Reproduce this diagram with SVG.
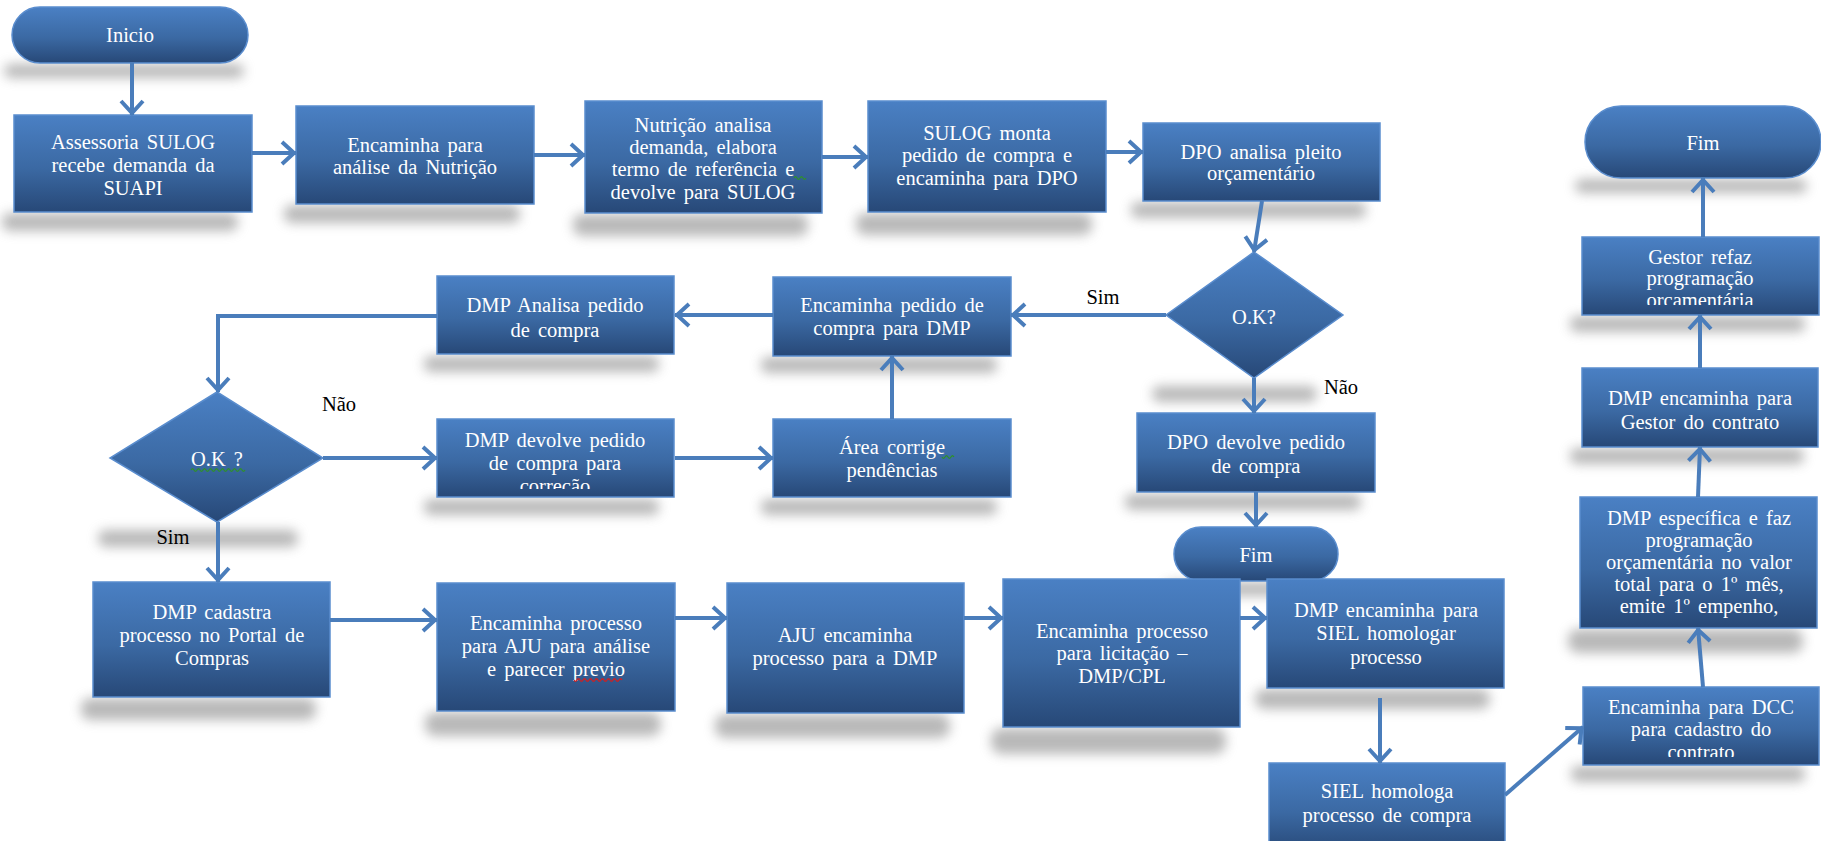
<svg xmlns="http://www.w3.org/2000/svg" width="1821" height="841" viewBox="0 0 1821 841">
<style>
.box{fill:url(#g);stroke:#5a8dce;stroke-width:1.5}
.sh{fill:#8a8a8a;opacity:.6;filter:url(#blur)}
.t{font-family:"Liberation Serif","Times New Roman",serif;font-size:20.5px;fill:#ffffff;text-anchor:middle;word-spacing:3px}
.lbl{font-family:"Liberation Serif","Times New Roman",serif;font-size:20.5px;fill:#000000;text-anchor:middle}
.c{fill:none;stroke:#4a7dbb;stroke-width:4;marker-end:url(#ah)}
.sq{fill:none;stroke:#2f8f2f;stroke-width:1.3}
.sqr{fill:none;stroke:#d02020;stroke-width:1.3}
</style>
<defs>
<linearGradient id="g" x1="0" y1="0" x2="0" y2="1">
<stop offset="0" stop-color="#4a80c4"/>
<stop offset="0.55" stop-color="#3b69a3"/>
<stop offset="1" stop-color="#274877"/>
</linearGradient>
<filter id="blur" x="-30%" y="-200%" width="160%" height="500%"><feGaussianBlur stdDeviation="6"/></filter>
<marker id="ah" viewBox="-17 -14 18 28" markerWidth="18" markerHeight="28" refX="0" refY="0" orient="auto" markerUnits="userSpaceOnUse">
<path d="M-14,-11 L-2,0 L-14,11" fill="none" stroke="#4a7dbb" stroke-width="4"/>
</marker>
<clipPath id="cp1"><rect x="437" y="419" width="237" height="70"/></clipPath>
<clipPath id="cp2"><rect x="1582" y="237" width="237" height="68"/></clipPath>
<clipPath id="cp3"><rect x="1583" y="687" width="236" height="70"/></clipPath>
</defs>

<g id="n_inicio">
<rect class="sh" x="4" y="64" width="240" height="14" rx="7"/>
<rect class="box" x="12" y="7" width="236" height="56" rx="28"/>
<text class="t" x="130" y="42">Inicio</text>
</g>
<g id="n_assessoria">
<rect class="sh" x="2" y="213" width="236" height="18" rx="8"/>
<rect class="box" x="14" y="115" width="238" height="97"/>
<text class="t" x="133" y="149">Assessoria SULOG</text>
<text class="t" x="133" y="172">recebe demanda da</text>
<text class="t" x="133" y="195">SUAPI</text>
</g>
<g id="n_enc_nutri">
<rect class="sh" x="284" y="205" width="236" height="18" rx="8"/>
<rect class="box" x="296" y="106" width="238" height="98"/>
<text class="t" x="415" y="152">Encaminha para</text>
<text class="t" x="415" y="174">análise da Nutrição</text>
</g>
<g id="n_nutricao">
<rect class="sh" x="573" y="214" width="235" height="22" rx="9"/>
<rect class="box" x="585" y="101" width="237" height="112"/>
<text class="t" x="703" y="132">Nutrição analisa</text>
<text class="t" x="703" y="154">demanda, elabora</text>
<text class="t" x="703" y="176">termo de referência e</text>
<text class="t" x="703" y="199">devolve para SULOG</text>
<path class="sq" d="M794,178 q1.5,-2.5 3,0 t3,0 t3,0 t3,0"/>
</g>
<g id="n_sulog">
<rect class="sh" x="856" y="213" width="236" height="22" rx="9"/>
<rect class="box" x="868" y="101" width="238" height="111"/>
<text class="t" x="987" y="140">SULOG monta</text>
<text class="t" x="987" y="162">pedido de compra e</text>
<text class="t" x="987" y="185">encaminha para DPO</text>
</g>
<g id="n_dpo_analisa">
<rect class="sh" x="1131" y="202" width="235" height="16" rx="7"/>
<rect class="box" x="1143" y="123" width="237" height="78"/>
<text class="t" x="1261" y="159">DPO analisa pleito</text>
<text class="t" x="1261" y="180">orçamentário</text>
</g>
<g id="n_ok1">
<rect class="sh" x="1152" y="386" width="165" height="16" rx="8"/>
<polygon class="box" points="1254,252 1343,315 1254,378 1166,315"/>
<text class="t" x="1254" y="324">O.K?</text>
</g>
<g id="n_enc_dmp">
<rect class="sh" x="761" y="357" width="236" height="16" rx="7"/>
<rect class="box" x="773" y="277" width="238" height="79"/>
<text class="t" x="892" y="312">Encaminha pedido de</text>
<text class="t" x="892" y="335">compra para DMP</text>
</g>
<g id="n_dmp_analisa">
<rect class="sh" x="424" y="356" width="235" height="16" rx="7"/>
<rect class="box" x="437" y="276" width="237" height="78"/>
<text class="t" x="555" y="312">DMP Analisa pedido</text>
<text class="t" x="555" y="337">de compra</text>
</g>
<g id="n_ok2">
<rect class="sh" x="98" y="530" width="200" height="17" rx="8"/>
<polygon class="box" points="217,392 323,458 217,522 110,458"/>
<text class="t" x="217" y="466">O.K ?</text>
<path class="sq" d="M191,470 q1.5,-2.5 3,0 t3,0 t3,0 t3,0 t3,0 t3,0 t3,0 t3,0 t3,0 t3,0 t3,0 t3,0 t3,0 t3,0 t3,0 t3,0 t3,0 t3,0"/>
</g>
<g id="n_dmp_devolve">
<rect class="sh" x="424" y="499" width="235" height="16" rx="7"/>
<rect class="box" x="437" y="419" width="237" height="78"/>
<g clip-path="url(#cp1)">
<text class="t" x="555" y="447">DMP devolve pedido</text>
<text class="t" x="555" y="470">de compra para</text>
<text class="t" x="555" y="493">correção</text>
</g>
</g>
<g id="n_area">
<rect class="sh" x="761" y="499" width="236" height="16" rx="7"/>
<rect class="box" x="773" y="419" width="238" height="78"/>
<text class="t" x="892" y="454">Área corrige</text>
<text class="t" x="892" y="477">pendências</text>
<path class="sq" d="M942,457 q1.5,2.5 3,0 t3,0 t3,0 t3,0"/>
</g>
<g id="n_dpo_devolve">
<rect class="sh" x="1125" y="494" width="236" height="16" rx="7"/>
<rect class="box" x="1137" y="413" width="238" height="79"/>
<text class="t" x="1256" y="449">DPO devolve pedido</text>
<text class="t" x="1256" y="473">de compra</text>
</g>
<g id="n_fim1">
<rect class="sh" x="1164" y="582" width="162" height="14" rx="7"/>
<rect class="box" x="1174" y="527" width="164" height="54" rx="27"/>
<text class="t" x="1256" y="562">Fim</text>
</g>
<g id="n_cadastra">
<rect class="sh" x="81" y="698" width="235" height="22" rx="9"/>
<rect class="box" x="93" y="582" width="237" height="115"/>
<text class="t" x="212" y="619">DMP cadastra</text>
<text class="t" x="212" y="642">processo no Portal de</text>
<text class="t" x="212" y="665">Compras</text>
</g>
<g id="n_enc_aju">
<rect class="sh" x="425" y="712" width="236" height="24" rx="10"/>
<rect class="box" x="437" y="583" width="238" height="128"/>
<text class="t" x="556" y="630">Encaminha processo</text>
<text class="t" x="556" y="653">para AJU para análise</text>
<text class="t" x="556" y="676">e parecer previo</text>
<path class="sqr" d="M574,680 q1.5,2.5 3,0 t3,0 t3,0 t3,0 t3,0 t3,0 t3,0 t3,0 t3,0 t3,0 t3,0 t3,0 t3,0 t3,0 t3,0 t3,0"/>
</g>
<g id="n_aju">
<rect class="sh" x="715" y="714" width="235" height="24" rx="10"/>
<rect class="box" x="727" y="583" width="237" height="130"/>
<text class="t" x="845" y="642">AJU encaminha</text>
<text class="t" x="845" y="665">processo para a DMP</text>
</g>
<g id="n_licitacao">
<rect class="sh" x="991" y="728" width="235" height="26" rx="11"/>
<rect class="box" x="1003" y="579" width="237" height="148"/>
<text class="t" x="1122" y="638">Encaminha processo</text>
<text class="t" x="1122" y="660">para licitação –</text>
<text class="t" x="1122" y="683">DMP/CPL</text>
</g>
<g id="n_dmp_siel">
<rect class="sh" x="1255" y="689" width="235" height="20" rx="9"/>
<rect class="box" x="1267" y="579" width="237" height="109"/>
<text class="t" x="1386" y="617">DMP encaminha para</text>
<text class="t" x="1386" y="640">SIEL homologar</text>
<text class="t" x="1386" y="664">processo</text>
</g>
<g id="n_siel_homologa">
<rect class="box" x="1269" y="763" width="236" height="90"/>
<text class="t" x="1387" y="798">SIEL homologa</text>
<text class="t" x="1387" y="822">processo de compra</text>
</g>
<g id="n_dcc">
<rect class="sh" x="1571" y="766" width="234" height="16" rx="7"/>
<rect class="box" x="1583" y="687" width="236" height="78"/>
<g clip-path="url(#cp3)">
<text class="t" x="1701" y="714">Encaminha para DCC</text>
<text class="t" x="1701" y="736">para cadastro do</text>
<text class="t" x="1701" y="759">contrato</text>
</g>
</g>
<g id="n_especifica">
<rect class="sh" x="1568" y="629" width="235" height="24" rx="10"/>
<rect class="box" x="1580" y="497" width="237" height="131"/>
<text class="t" x="1699" y="525">DMP específica e faz</text>
<text class="t" x="1699" y="547">programação</text>
<text class="t" x="1699" y="569">orçamentária no valor</text>
<text class="t" x="1699" y="591">total para o 1º mês,</text>
<text class="t" x="1699" y="613">emite 1º empenho,</text>
</g>
<g id="n_gestor_contrato">
<rect class="sh" x="1570" y="448" width="234" height="16" rx="7"/>
<rect class="box" x="1582" y="368" width="236" height="79"/>
<text class="t" x="1700" y="405">DMP encaminha para</text>
<text class="t" x="1700" y="429">Gestor do contrato</text>
</g>
<g id="n_gestor_refaz">
<rect class="sh" x="1570" y="316" width="235" height="16" rx="7"/>
<rect class="box" x="1582" y="237" width="237" height="78"/>
<g clip-path="url(#cp2)">
<text class="t" x="1700" y="264">Gestor refaz</text>
<text class="t" x="1700" y="285">programação</text>
<text class="t" x="1700" y="307">orçamentária</text>
</g>
</g>
<g id="n_fim2">
<rect class="sh" x="1575" y="179" width="232" height="14" rx="7"/>
<rect class="box" x="1585" y="106" width="236" height="72" rx="36"/>
<text class="t" x="1703" y="150">Fim</text>
</g>

<g id="labels">
<text class="lbl" x="1103" y="304">Sim</text>
<text class="lbl" x="1341" y="394">Não</text>
<text class="lbl" x="339" y="411">Não</text>
<text class="lbl" x="173" y="544">Sim</text>
</g>

<g id="connectors">
<path class="c" d="M132,63 L132,115"/>
<path class="c" d="M252,153 L296,153"/>
<path class="c" d="M534,155 L585,155"/>
<path class="c" d="M822,157 L868,157"/>
<path class="c" d="M1106,152 L1143,152"/>
<path class="c" d="M1262,201 L1254,252"/>
<path class="c" d="M1166,315 L1011,315"/>
<path class="c" d="M1254,378 L1254,413"/>
<path class="c" d="M1256,492 L1256,527"/>
<path class="c" d="M773,315 L675,315"/>
<path class="c" d="M437,316 L218,316 L218,392"/>
<path class="c" d="M323,458 L437,458"/>
<path class="c" d="M675,458 L773,458"/>
<path class="c" d="M892,419 L892,356"/>
<path class="c" d="M218,522 L218,582"/>
<path class="c" d="M330,620 L437,620"/>
<path class="c" d="M675,618 L727,618"/>
<path class="c" d="M964,618 L1003,618"/>
<path class="c" d="M1240,618 L1267,618"/>
<path class="c" d="M1380,698 L1380,763"/>
<path class="c" d="M1505,795 L1583,727"/>
<path class="c" d="M1703,687 L1698,628"/>
<path class="c" d="M1698,497 L1700,447"/>
<path class="c" d="M1700,368 L1700,315"/>
<path class="c" d="M1703,237 L1703,178"/>
</g>
</svg>
